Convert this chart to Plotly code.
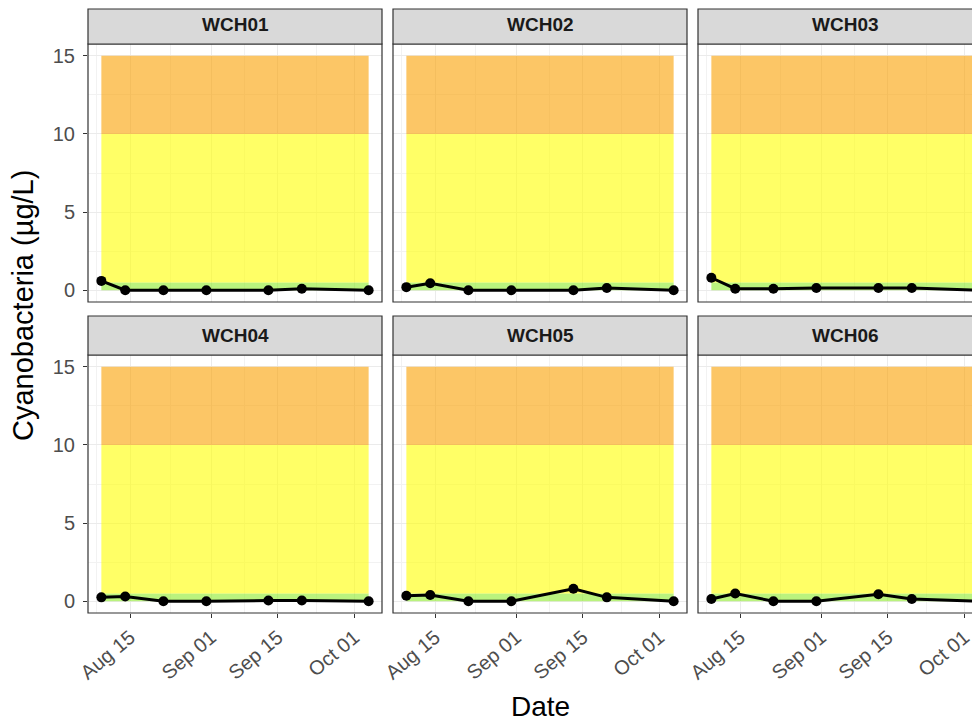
import plotly.graph_objects as go
import pandas as pd

# ---------------- data ----------------
dates = ["2023-08-09", "2023-08-14", "2023-08-22", "2023-08-31",
         "2023-09-13", "2023-09-20", "2023-10-04"]
sites = ["WCH01", "WCH02", "WCH03", "WCH04", "WCH05", "WCH06"]
wch01 = [0.6, 0.0, 0.0, 0.0, 0.0, 0.1, 0.0]
wch02 = [0.2, 0.45, 0.0, 0.0, 0.0, 0.15, 0.0]
wch03 = [0.8, 0.1, 0.1, 0.15, 0.15, 0.15, 0.0]
wch04 = [0.25, 0.3, 0.0, 0.0, 0.05, 0.05, 0.0]
wch05 = [0.35, 0.4, 0.0, 0.0, 0.8, 0.25, 0.0]
wch06 = [0.15, 0.5, 0.0, 0.0, 0.45, 0.15, 0.0]
site_values = [wch01, wch02, wch03, wch04, wch05, wch06]

band_lower = [0, 0.5, 10]
band_upper = [0.5, 10, 15]
band_colors = ["rgba(140,235,40,0.6)", "rgba(255,255,0,0.6)", "rgba(250,160,0,0.6)"]

x_tick_vals = ["2023-08-15", "2023-09-01", "2023-09-15", "2023-10-01"]
x_tick_text = ["Aug 15", "Sep 01", "Sep 15", "Oct 01"]
x_minor_vals = ["2023-08-08", "2023-08-23 12:00", "2023-09-08", "2023-09-23"]
y_tick_vals = [0, 5, 10, 15]
y_minor_vals = [2.5, 7.5, 12.5]

# ---------------- layout geometry (reference pixels) ----------------
OFF = 8            # page body margin offset
W, H = 980 - OFF, 725 - OFF
col_left = [88, 393, 698]
panel_w = 294
row_top = [44, 355]
panel_h = 258
strip_h = 39
FONT = "Liberation Sans, Arial, sans-serif"

def fx(x):
    return (x - OFF) / W

def fy(y):
    return 1 - (y - OFF) / H

d = pd.to_datetime(dates)
span = d[-1] - d[0]
x_start = d[0] - 0.05 * span
x_full_end = d[-1] + 0.05 * span
full_span = x_full_end - x_start
y_range = [-0.75, 15.75]

fig = go.Figure()
shapes = []
annotations = []

for i, (site, vals) in enumerate(zip(sites, site_values)):
    r, c = divmod(i, 3)
    k = i + 1
    xa = "xaxis" if k == 1 else f"xaxis{k}"
    ya = "yaxis" if k == 1 else f"yaxis{k}"
    xr = "x" if k == 1 else f"x{k}"
    yr = "y" if k == 1 else f"y{k}"

    left = col_left[c]
    right_vis = min(left + panel_w, 980)
    frac = (right_vis - left) / panel_w
    x_end = x_start + full_span * frac
    top = row_top[r]
    bottom = top + panel_h

    fig.add_trace(go.Scatter(
        x=dates, y=vals, mode="lines+markers",
        line=dict(color="black", width=3),
        marker=dict(color="black", size=10),
        xaxis=xr, yaxis=yr, showlegend=False,
        hovertemplate="%{x}<br>%{y}<extra>" + site + "</extra>",
    ))

    bottom_row = (r == 1)
    first_col = (c == 0)
    fig.update_layout({
        xa: dict(
            domain=[fx(left), min(fx(right_vis), 1)], anchor=yr,
            range=[x_start.isoformat(), x_end.isoformat()],
            type="date",
            tickmode="array", tickvals=x_tick_vals, ticktext=x_tick_text,
            showticklabels=bottom_row,
            ticks="outside" if bottom_row else "", ticklen=4, tickwidth=1,
            tickcolor="#333333", tickangle=-40,
            tickfont=dict(family=FONT, size=20, color="#4D4D4D"),
            showgrid=True, gridcolor="#EBEBEB", gridwidth=1,
            minor=dict(tickmode="array", tickvals=x_minor_vals, showgrid=True,
                       gridcolor="#F2F2F2", gridwidth=1, ticks=""),
            zeroline=False, showline=False, automargin=False, fixedrange=True,
        ),
        ya: dict(
            domain=[fy(bottom), fy(top)], anchor=xr,
            range=y_range,
            tickmode="array", tickvals=y_tick_vals,
            showticklabels=first_col,
            ticks="outside" if first_col else "", ticklen=4, tickwidth=1,
            tickcolor="#333333", ticklabelstandoff=4,
            tickfont=dict(family=FONT, size=20, color="#4D4D4D"),
            showgrid=True, gridcolor="#EBEBEB", gridwidth=1,
            minor=dict(tickmode="array", tickvals=y_minor_vals, showgrid=True,
                       gridcolor="#F2F2F2", gridwidth=1, ticks=""),
            zeroline=False, showline=False, automargin=False, fixedrange=True,
        ),
    })

    # threshold bands
    for lo, hi, col in zip(band_lower, band_upper, band_colors):
        shapes.append(dict(
            type="rect", xref=xr, yref=yr,
            x0=dates[0], x1=dates[-1], y0=lo, y1=hi,
            fillcolor=col, line=dict(width=0), layer="between",
        ))

    # panel border
    shapes.append(dict(
        type="rect", xref="paper", yref="paper",
        x0=fx(left), x1=fx(left + panel_w), y0=fy(bottom), y1=fy(top),
        line=dict(color="#333333", width=1.2), fillcolor="rgba(0,0,0,0)",
        layer="above",
    ))
    # strip
    strip_top = max(top - strip_h, OFF + 1)
    shapes.append(dict(
        type="rect", xref="paper", yref="paper",
        x0=fx(left), x1=fx(left + panel_w), y0=fy(top), y1=fy(strip_top),
        line=dict(color="#333333", width=1.2), fillcolor="#D9D9D9",
        layer="above",
    ))
    annotations.append(dict(
        text=f"<b>{site}</b>", xref="paper", yref="paper",
        x=fx(left + panel_w / 2), y=fy(top - strip_h / 2),
        xanchor="center", yanchor="middle", showarrow=False,
        font=dict(family=FONT, size=19, color="#1A1A1A"),
    ))

# axis titles
annotations.append(dict(
    text="Date", xref="paper", yref="paper",
    x=fx(540), y=fy(706), xanchor="center", yanchor="middle",
    showarrow=False, font=dict(family=FONT, size=28, color="black"),
))
annotations.append(dict(
    text="Cyanobacteria (µg/L)", xref="paper", yref="paper",
    x=fx(23), y=fy(306), xanchor="center", yanchor="middle", textangle=-90,
    showarrow=False, font=dict(family=FONT, size=29, color="black"),
))

fig.update_layout(
    width=W, height=H,
    margin=dict(l=0, r=0, t=0, b=0),
    paper_bgcolor="white", plot_bgcolor="white",
    shapes=shapes, annotations=annotations,
    showlegend=False,
    font=dict(family=FONT),
)

fig.write_html("out.html")
